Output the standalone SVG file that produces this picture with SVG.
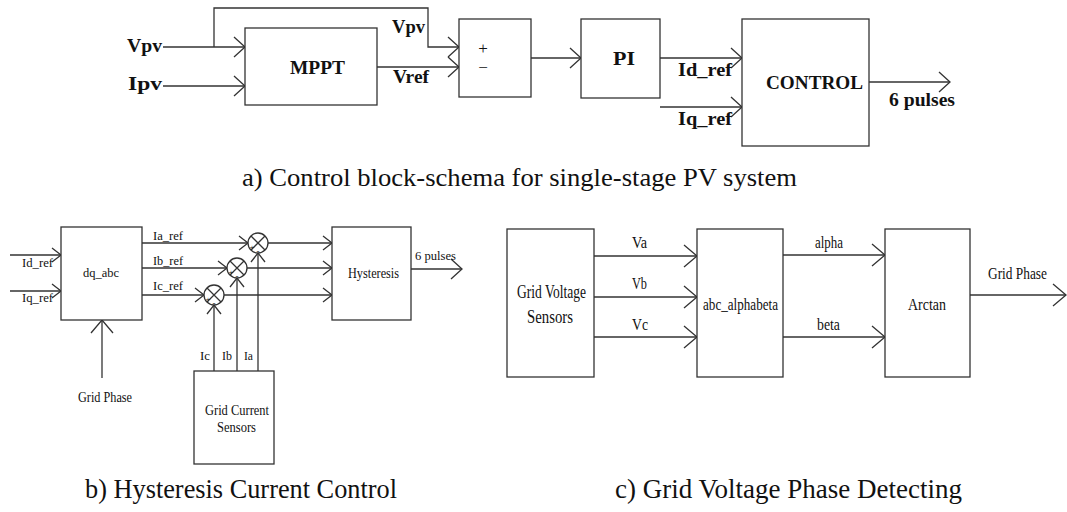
<svg xmlns="http://www.w3.org/2000/svg" width="1067" height="512" viewBox="0 0 1067 512" font-family="'Liberation Serif', Tinos, 'Times New Roman', Times, serif">
<style>
.box{fill:#fff;stroke:#333;stroke-width:1.3}
.ln{fill:none;stroke:#333;stroke-width:1.3}
text{font-family:'Liberation Serif', Tinos, 'Times New Roman', Times, serif}
.tb{font-weight:bold;font-size:19px;fill:#111}
.tr{font-size:13px;fill:#111}
.cap{font-size:27px;fill:#111}
</style>
<defs>
<marker id="aA" markerUnits="userSpaceOnUse" markerWidth="30" markerHeight="30" viewBox="-15 -15 30 30" refX="0" refY="0" orient="auto" overflow="visible"><path d="M-11,-10 L0,0 L-11,10" fill="none" stroke="#333" stroke-width="1.3"/></marker>
<marker id="aB" markerUnits="userSpaceOnUse" markerWidth="30" markerHeight="30" viewBox="-15 -15 30 30" refX="0" refY="0" orient="auto" overflow="visible"><path d="M-9,-7 L0,0 L-9,7" fill="none" stroke="#333" stroke-width="1.3"/></marker>
<marker id="aC" markerUnits="userSpaceOnUse" markerWidth="30" markerHeight="30" viewBox="-15 -15 30 30" refX="0" refY="0" orient="auto" overflow="visible"><path d="M-13,-11 L0,0 L-13,11" fill="none" stroke="#333" stroke-width="1.3"/></marker>
</defs>

<!-- Section a -->
<g id="connectors-a">
<line class="ln" x1="163" y1="47" x2="245" y2="47" marker-end="url(#aA)"/>
<polyline class="ln" points="214,47 214,8 428,8 428,47 459,47" marker-end="url(#aA)"/>
<line class="ln" x1="163" y1="86" x2="245" y2="86" marker-end="url(#aA)"/>
<line class="ln" x1="377" y1="67" x2="459" y2="67" marker-end="url(#aA)"/>
<line class="ln" x1="531" y1="58" x2="581" y2="58" marker-end="url(#aA)"/>
<line class="ln" x1="660" y1="58" x2="742" y2="58" marker-end="url(#aA)"/>
<line class="ln" x1="660" y1="107" x2="742" y2="107" marker-end="url(#aA)"/>
<line class="ln" x1="869" y1="82" x2="950" y2="82" marker-end="url(#aA)"/>
<text class="tb" x="127" y="52" textLength="35" lengthAdjust="spacingAndGlyphs">Vpv</text>
<text class="tb" x="128" y="90" textLength="34" lengthAdjust="spacingAndGlyphs">Ipv</text>
<text class="tb" x="392" y="33" textLength="33" lengthAdjust="spacingAndGlyphs">Vpv</text>
<text class="tb" x="393" y="83" textLength="36" lengthAdjust="spacingAndGlyphs">Vref</text>
<text class="tb" x="678" y="76" textLength="54" lengthAdjust="spacingAndGlyphs">Id_ref</text>
<text class="tb" x="678" y="125" textLength="54" lengthAdjust="spacingAndGlyphs">Iq_ref</text>
<text class="tb" x="889" y="106" textLength="66" lengthAdjust="spacingAndGlyphs">6 pulses</text>
</g>
<g id="mppt">
<rect class="box" x="245" y="28" width="132" height="77"/>
<text class="tb" x="290" y="74" textLength="55" lengthAdjust="spacingAndGlyphs">MPPT</text>
</g>
<g id="sum">
<rect class="box" x="459" y="19" width="72" height="78"/>
<text class="tr" style="font-size:17px" x="483" y="54" text-anchor="middle">+</text>
<text class="tr" style="font-size:17px" x="483" y="73" text-anchor="middle">−</text>
</g>
<g id="pi">
<rect class="box" x="581" y="19" width="79" height="79"/>
<text class="tb" x="613" y="65" textLength="22" lengthAdjust="spacingAndGlyphs">PI</text>
</g>
<g id="control">
<rect class="box" x="742" y="19" width="127" height="127"/>
<text class="tb" x="766" y="89" textLength="97" lengthAdjust="spacingAndGlyphs">CONTROL</text>
</g>
<text class="cap" style="font-size:26px" x="242" y="186" textLength="555" lengthAdjust="spacingAndGlyphs">a) Control block-schema for single-stage PV system</text>

<!-- Section b -->
<g id="connectors-b">
<line class="ln" x1="10" y1="255" x2="61" y2="255" marker-end="url(#aB)"/>
<line class="ln" x1="10" y1="291" x2="61" y2="291" marker-end="url(#aB)"/>
<line class="ln" x1="102" y1="378" x2="102" y2="320" marker-end="url(#aC)"/>
<line class="ln" x1="142" y1="243" x2="248" y2="243" marker-end="url(#aB)"/>
<line class="ln" x1="142" y1="268" x2="227" y2="268" marker-end="url(#aB)"/>
<line class="ln" x1="142" y1="295" x2="204" y2="295" marker-end="url(#aB)"/>
<line class="ln" x1="268" y1="243" x2="332" y2="243" marker-end="url(#aB)"/>
<line class="ln" x1="247" y1="268" x2="332" y2="268" marker-end="url(#aB)"/>
<line class="ln" x1="224" y1="295" x2="332" y2="295" marker-end="url(#aB)"/>
<line class="ln" x1="214" y1="371" x2="214" y2="305" marker-end="url(#aB)"/>
<line class="ln" x1="237" y1="371" x2="237" y2="278" marker-end="url(#aB)"/>
<line class="ln" x1="258" y1="371" x2="258" y2="253" marker-end="url(#aB)"/>
<line class="ln" x1="411" y1="269" x2="462" y2="269" marker-end="url(#aA)"/>
<text class="tr" style="font-size:12px" x="22" y="267" textLength="31" lengthAdjust="spacingAndGlyphs">Id_ref</text>
<text class="tr" style="font-size:12px" x="22" y="302" textLength="31" lengthAdjust="spacingAndGlyphs">Iq_ref</text>
<text class="tr" style="font-size:12px" x="153" y="240" textLength="30" lengthAdjust="spacingAndGlyphs">Ia_ref</text>
<text class="tr" style="font-size:12px" x="153" y="265" textLength="30" lengthAdjust="spacingAndGlyphs">Ib_ref</text>
<text class="tr" style="font-size:12px" x="153" y="290" textLength="30" lengthAdjust="spacingAndGlyphs">Ic_ref</text>
<text class="tr" style="font-size:15px" x="78" y="402" textLength="54" lengthAdjust="spacingAndGlyphs">Grid Phase</text>
<text class="tr" x="200" y="360" textLength="10" lengthAdjust="spacingAndGlyphs">Ic</text>
<text class="tr" x="222" y="360" textLength="10" lengthAdjust="spacingAndGlyphs">Ib</text>
<text class="tr" x="244" y="360" textLength="9" lengthAdjust="spacingAndGlyphs">Ia</text>
<text class="tr" x="415" y="260" textLength="41" lengthAdjust="spacingAndGlyphs">6 pulses</text>
</g>
<g id="dq_abc">
<rect class="box" x="61" y="227" width="81" height="93"/>
<text class="tr" x="83" y="277" textLength="36" lengthAdjust="spacingAndGlyphs">dq_abc</text>
</g>
<g id="junction-a">
<circle class="box" cx="258" cy="243" r="10"/>
<path class="ln" d="M251,236 L265,250 M265,236 L251,250"/>
<text class="tr" style="font-size:9px" x="252" y="250" text-anchor="middle">+</text>
<text class="tr" style="font-size:9px" x="258" y="254" text-anchor="middle">-</text>
</g>
<g id="junction-b">
<circle class="box" cx="237" cy="268" r="10"/>
<path class="ln" d="M230,261 L244,275 M244,261 L230,275"/>
<text class="tr" style="font-size:9px" x="231" y="275" text-anchor="middle">+</text>
<text class="tr" style="font-size:9px" x="237" y="279" text-anchor="middle">-</text>
</g>
<g id="junction-c">
<circle class="box" cx="214" cy="295" r="10"/>
<path class="ln" d="M207,288 L221,302 M221,288 L207,302"/>
<text class="tr" style="font-size:9px" x="208" y="302" text-anchor="middle">+</text>
<text class="tr" style="font-size:9px" x="214" y="306" text-anchor="middle">-</text>
</g>
<g id="hysteresis">
<rect class="box" x="332" y="227" width="79" height="93"/>
<text class="tr" style="font-size:14px" x="348" y="278" textLength="51" lengthAdjust="spacingAndGlyphs">Hysteresis</text>
</g>
<g id="grid-current-sensors">
<rect class="box" x="194" y="371" width="80" height="93"/>
<text class="tr" style="font-size:15px" x="205" y="415" textLength="64" lengthAdjust="spacingAndGlyphs">Grid Current</text>
<text class="tr" style="font-size:15px" x="217" y="432" textLength="39" lengthAdjust="spacingAndGlyphs">Sensors</text>
</g>
<text class="cap" x="85" y="498" textLength="312" lengthAdjust="spacingAndGlyphs">b) Hysteresis Current Control</text>

<!-- Section c -->
<g id="connectors-c">
<line class="ln" x1="594" y1="256" x2="697" y2="256" marker-end="url(#aC)"/>
<line class="ln" x1="594" y1="297" x2="697" y2="297" marker-end="url(#aC)"/>
<line class="ln" x1="594" y1="337" x2="697" y2="337" marker-end="url(#aC)"/>
<line class="ln" x1="783" y1="255" x2="885" y2="255" marker-end="url(#aC)"/>
<line class="ln" x1="783" y1="337" x2="885" y2="337" marker-end="url(#aC)"/>
<line class="ln" x1="970" y1="295" x2="1066" y2="295" marker-end="url(#aC)"/>
<text class="tr" style="font-size:16px" x="632" y="248" textLength="15" lengthAdjust="spacingAndGlyphs">Va</text>
<text class="tr" style="font-size:16px" x="632" y="289" textLength="15" lengthAdjust="spacingAndGlyphs">Vb</text>
<text class="tr" style="font-size:16px" x="632" y="330" textLength="16" lengthAdjust="spacingAndGlyphs">Vc</text>
<text class="tr" style="font-size:16px" x="815" y="248" textLength="28" lengthAdjust="spacingAndGlyphs">alpha</text>
<text class="tr" style="font-size:16px" x="817" y="330" textLength="23" lengthAdjust="spacingAndGlyphs">beta</text>
<text class="tr" style="font-size:17px" x="988" y="279" textLength="59" lengthAdjust="spacingAndGlyphs">Grid Phase</text>
</g>
<g id="grid-voltage-sensors">
<rect class="box" x="507" y="229" width="87" height="148"/>
<text class="tr" style="font-size:18px" x="517" y="298" textLength="69" lengthAdjust="spacingAndGlyphs">Grid Voltage</text>
<text class="tr" style="font-size:18px" x="527" y="323" textLength="46" lengthAdjust="spacingAndGlyphs">Sensors</text>
</g>
<g id="abc_alphabeta">
<rect class="box" x="697" y="229" width="86" height="148"/>
<text class="tr" style="font-size:17px" x="703" y="310" textLength="75" lengthAdjust="spacingAndGlyphs">abc_alphabeta</text>
</g>
<g id="arctan">
<rect class="box" x="885" y="229" width="85" height="148"/>
<text class="tr" style="font-size:17px" x="908" y="310" textLength="38" lengthAdjust="spacingAndGlyphs">Arctan</text>
</g>
<text class="cap" x="615" y="498" textLength="347" lengthAdjust="spacingAndGlyphs">c) Grid Voltage Phase Detecting</text>
</svg>
